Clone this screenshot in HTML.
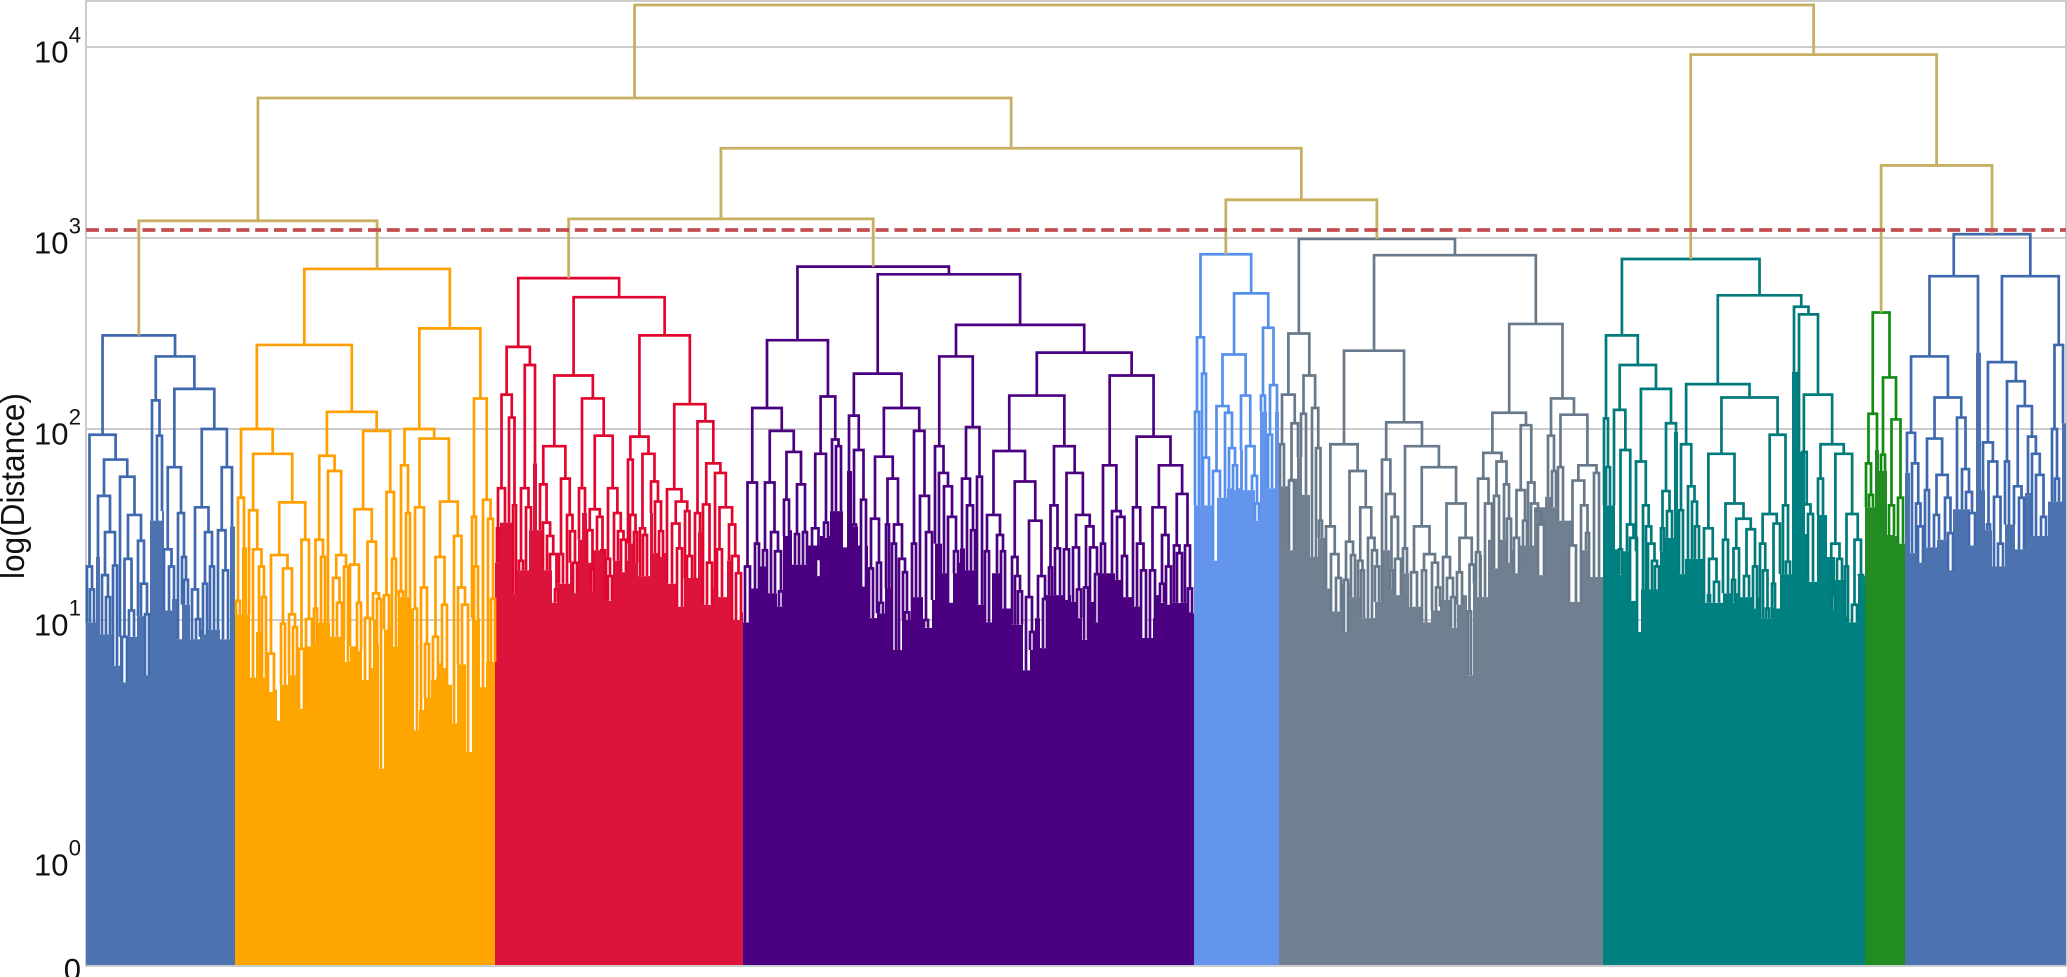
<!DOCTYPE html>
<html lang="en">
<head>
<meta charset="utf-8">
<title>Dendrogram of log(Distance)</title>
<style>
html,body{margin:0;padding:0;background:#fff;}
body{width:2067px;height:977px;overflow:hidden;}
svg{display:block;font-family:"Liberation Sans",Arial,sans-serif;}
</style>
</head>
<body>
<svg id="chart" xmlns="http://www.w3.org/2000/svg" width="2067" height="977" viewBox="0 0 2067 977">
  <rect x="0" y="0" width="2067" height="977" fill="#fff"/>
  <g id="grid"></g>
  <rect x="86" y="1" width="1980" height="965" fill="none" stroke="#ccc" stroke-width="2"/>
  <g id="fills"></g>
  <g id="slits"></g>
  <g id="links" fill="none" stroke-width="2.7"></g>
  <g id="toplinks" fill="none" stroke-width="2.8"></g>
  <line id="threshold" stroke="#c44e52" stroke-width="3.8" stroke-dasharray="13 5.8"/>
  <g id="yticks" fill="#111"></g>
  <text transform="translate(24 486) rotate(-90)" text-anchor="middle" font-size="33" textLength="186" lengthAdjust="spacingAndGlyphs" fill="#111">log(Distance)</text>
</svg>
<script>
// Each node is [log10 distance, left, right, optional log10 depth of the open gap]; bare numbers are leaf indices.
const leafCount = 1980;
const tickExponents = [0, 1, 2, 3, 4];
const thresholdLog = 3.042;

const blue1Tree = [2.49,
 [1.97,
  [1.28,1,[1.16,4,8,1.00]],
  [1.84,
   [1.65,12,[1.46,[1.235,16,[1.12,20,24,.95]],[1.285,27,31,.81]]],
   [1.75,34,[1.55,[1.32,[.93,36,41,.74],[1.05,43,48,.93]],[1.415,52,[1.19,55,[1.03,59,63,.77]]]]]]],
 [2.38,
  [2.15,66,[1.965,71,76]],
  [2.21,
   [1.80,[1.37,78,[1.28,83,88,1.11]],[1.56,92,[1.33,96,[1.21,98,102]]]],
   [2.00,
    [1.59,[1.16,106,[1.005,110,114,.93]],[1.46,[1.19,117,121,.94],[1.28,124,128,.96]]],
    [1.80,[1.47,132,[1.26,137,142,.92]],146]]]]];
const blue1Fill = [[0,.99],[10,1.33],[14,.94],[27,.81],[34,.93],[51,1.02],[64,1.52],[76,1.57],[78,1.05],[86,1.11],[91,.92],[96,1.08],[104,.92],[114,.96],[134,.92],[144,1.49]];

const orangeTree = [2.838,
 [2.44,
  [2.00,
   [1.64,[1.10,150,154],158],
   [1.87,
    [1.575,163,[1.37,167,[1.28,173,[1.12,176,180,.76]]]],
    [1.616,
     [1.34,[.86,182,188,.70],[1.27,[.985,195,199,.76],[1.03,203,[.97,207,211,.80]]]],
     [1.42,[.88,213,218,.76],[1.005,220,226,.90]]]]],
  [2.09,
   [1.86,
    [1.42,[1.06,228,231,.90],[1.33,235,239,1.05]],
    [1.78,242,[1.34,[1.22,247,[1.09,251,256,.94]],[1.28,258,262,.92]]]],
   [1.99,
    [1.58,[1.29,264,[1.09,271,275,.87]],[1.41,[1.01,279,284,.75],[1.14,287,[1.11,291,295,.90]]]],
    [1.67,[1.13,298,303,.96],[1.32,306,310,.90]]]]],
 [2.527,
  [2.00,
   [1.81,[1.15,313,317],[1.56,320,324]],
   [1.95,
    [1.59,[1.06,327,331],[1.17,335,[.90,339,343,.76]]],
    [1.62,[1.33,[.93,347,352,.76],[1.08,356,361,.80]],[1.44,368,[1.17,372,[1.08,376,382,.93]]]]]],
  [2.16,
   [1.54,386,[1.28,388,392,1.0]],
   [1.63,397,[1.53,402,[1.11,405,409]]]]]];
const orangeFill = [[149,1.03],[156,1.38],[161,1.03],[164,.76],[170,.95],[176,.80],[182,.71],[191,.58],[194,.73],[202,.77],[212,.63],[221,.89],[227,.99],[244,.93],[259,.825],[264,.89],[276,.75],[281,.80],[287,1.0],[293,.38],[298,.97],[307,.89],[312,1.12],[324,1.06],[328,.54],[333,.625],[338,.675],[345,.75],[350,.82],[361,.73],[366,.57],[371,.815],[380,.45],[386,1.01],[394,.72],[400,.825]];

const redTree = [2.79,
 [2.43,
  [2.18,[1.69,[1.48,411,413,1.30],419],[2.06,423,[1.60,427,430,1.14]]],
  [2.335,[1.69,[1.31,433,437,1.26],[1.59,440,445]],449]],
 [2.69,
  [2.28,
   [1.91,
    [1.71,454,[1.51,457,[1.44,461,[1.345,464,[1.16,469,472,1.09]]]]],
    [1.74,[1.345,473,477,1.19],[1.55,481,[1.465,484,[1.30,487,491,1.14]]]]],
   [2.16,
    [1.69,493,499],
    [1.965,
     [1.58,[1.47,501,[1.265,505,508,1.15]],[1.54,511,[1.365,514,519]]],
     [1.69,[1.32,520,[1.23,522,526,1.10]],[1.56,528,[1.465,532,[1.42,535,540,1.25]]]]]]],
  [2.49,
   [1.96,
    [1.84,542,[1.55,544,[1.46,548,551,1.30]]],
    [1.87,[1.48,554,[1.445,557,561,1.23]],[1.725,565,[1.62,569,[1.465,573,577,1.33]]]]],
   [2.13,
    [1.685,581,[1.62,[1.505,586,[1.375,591,596,1.07]],[1.57,599,[1.335,601,606,1.22]]]],
    [2.04,
     [1.56,609,614],
     [1.82,[1.605,617,[1.30,621,626,1.08]],[1.77,629,[1.59,[1.37,631,636,1.12],[1.50,643,[1.335,646,[1.245,650,655,1.00]]]]]]]]]]];
const redFill = [[409,1.30],[414,1.51],[431,1.26],[443,1.47],[447,1.82],[451,1.47],[457,1.26],[466,1.09],[472,1.19],[484,1.30],[492,1.42],[496,1.56],[501,1.30],[507,1.365],[519,1.10],[527,1.31],[542,1.40],[552,1.23],[564,1.56],[567,1.35],[581,1.19],[591,1.07],[598,1.22],[612,1.46],[617,1.08],[626,1.165],[634,1.12],[641,1.31],[646,1.00],[655,1.04]];

const indigoTree = [2.85,
 [2.465,
  [2.11,
   [1.72,[1.28,659,664,.99],[1.40,669,673,1.17]],
   [1.99,
    [1.72,[1.365,677,681],[1.46,685,[1.36,689,[1.15,693,697,1.07]]]],
    [1.88,[1.63,698,703,1.44],[1.71,[1.45,709,713,1.29],[1.46,717,721,1.29]]]]],
  [2.17,
   [1.87,[1.48,726,[1.32,730,735,1.23]],[1.51,738,742,1.43]],
   [1.945,746,[1.91,750,755]]]],
 [2.81,
  [2.29,
   [2.07,763,[1.89,[1.50,766,770],[1.63,775,780,1.175]]],
   [2.11,
    [1.855,
     [1.53,[1.27,783,787,1.01],[1.30,791,[1.09,793,797,1.035]]],
     [1.74,[1.50,800,803,1.165],[1.50,[1.40,806,810,.875],[1.32,813,[1.25,817,[1.04,819,823,1.0]]]]]],
    [1.99,[1.40,826,830,1.12],[1.65,834,[1.46,[1.0,838,842,.967],846]]]]],
  [2.545,
   [2.38,
    [1.91,849,[1.77,853,[1.70,858,[1.54,862,[1.36,868,872,1.245]]]]],
    [2.01,[1.74,876,[1.60,881,[1.47,885,889,1.30]]],[1.75,891,896,1.08]]],
   [2.40,
    [2.175,
     [1.885,
      [1.55,[1.36,899,903,1.245],[1.445,911,[1.36,915,919,1.06]]],
      [1.725,
       [1.33,926,[1.23,929,[1.15,932,936,.98]]],
       [1.52,[1.12,940,[.95,944,948,.875]],[1.23,952,[1.11,957,961,.883]]]]],
     [1.91,
      [1.60,[1.275,963,966,1.14],[1.375,969,974,1.165]],
      [1.77,
       [1.37,978,983,1.105],
       [1.55,
        [1.38,987,[1.16,991,995,1.01]],
        [1.49,[1.17,998,1002,.917],[1.38,1004,[1.24,1009,1013,.99]]]]]]],
    [2.28,
     [1.81,[1.40,1015,1019,1.29],[1.57,1026,[1.54,1031,[1.335,1036,1041,1.12]]]],
     [1.96,
      [1.59,1047,[1.40,1051,[1.26,1055,1060,.925]]],
      [1.81,
       [1.59,[1.26,1064,1069,1.01],[1.445,[1.19,1074,1078,1.09],[1.28,1080,1085,1.08]]],
       [1.66,[1.39,1088,[1.35,1091,1096,1.09]],[1.39,1099,[1.165,1102,1106,1.04]]]]]]]]]];
const indigoFill = [[657,.99],[662,1.165],[674,1.28],[681,1.14],[691,1.07],[697,1.47],[706,1.29],[722,1.39],[734,1.44],[744,1.57],[757,1.38],[761,1.78],[766,1.49],[772,1.39],[782,1.01],[791,1.035],[799,1.165],[809,.875],[816,1.0],[827,1.12],[837,.967],[846,1.105],[849,1.40],[856,1.245],[862,1.09],[867,1.30],[874,1.375],[879,1.26],[894,1.08],[899,.99],[906,1.245],[914,1.06],[925,.98],[937,.79],[944,.875],[949,1.01],[954,.883],[960,1.13],[985,1.095],[991,1.01],[996,.917],[1002,1.095],[1008,.99],[1013,1.245],[1029,1.21],[1036,1.12],[1046,1.07],[1059,.925],[1067,1.13],[1075,1.09],[1105,1.035]];

const cornflowerTree = [2.915,
 [2.48,[2.09,1109,1113],[2.29,1116,[1.85,1117,1123]]],
 [2.71,
  [2.39,
   [2.12,[1.78,1127,1134],[2.085,1139,[1.90,1143,[1.81,1147,1151,1.68]]]],
   [2.175,1155,[1.91,1160,[1.755,1166,[1.61,1169,1173,1.52]]]]],
  [2.53,[2.175,1175,1179],[2.23,[1.97,1182,1186,1.69],1191]]]];
const cornflowerFill = [[1108,1.60],[1126,1.31],[1131,1.64],[1141,1.69],[1154,1.89],[1157,1.68],[1169,1.52],[1174,2.09],[1181,1.97],[1184,1.69],[1189,2.09]];

const slateTree = [2.995,
 [2.50,
  [2.18,[1.92,1194,1198],[2.03,[1.73,1203,1208,1.365],1212]],
  [2.28,[2.08,1215,1220],[2.11,1226,[1.90,1230,[1.52,1233,1236,1.43]]]]],
 [2.91,
  [2.41,
   [1.92,
    [1.49,1240,[1.345,1245,[1.22,1250,1255,1.045]]],
    [1.78,
     [1.41,[1.21,1258,1262,.95],[1.34,1265,1269,1.12]],
     [1.59,[1.31,1272,[1.26,1275,1278,1.05]],[1.43,1282,[1.365,1286,[1.28,1289,1293,1.095]]]]]],
   [2.035,
    [1.84,1296,[1.66,1300,[1.54,[1.26,1304,1307,1.16],[1.32,1309,1315,1.13]]]],
    [1.91,
     [1.375,1317,1321,1.245],
     [1.80,
      [1.49,[1.25,1325,1331,1.07],[1.345,[1.26,1336,1340,1.08],[1.30,1346,[1.17,1350,1354,1.07]]]],
      [1.61,
       [1.33,1357,[1.22,1361,[1.12,1365,1369,.967]]],
       [1.43,[1.25,1371,1376,1.08],[1.29,[1.045,1382,1385,.77],1388]]]]]]],
  [2.55,
   [2.085,
    [1.875,
     [1.74,[1.355,1390,1394,1.12],[1.61,1399,1406]],
     [1.83,[1.65,1408,1413,1.27],[1.71,1418,[1.53,1421,1425,1.30]]]],
    [2.02,
     [1.68,[1.43,1428,1433,1.245],[1.52,1437,1441,1.39]],
     [1.72,1442,[1.61,1445,[1.57,1449,[1.50,1452,1458,1.235]]]]]],
   [2.16,
    [1.965,1462,[1.78,1466,1470,1.59]],
    [2.075,
     [1.80,1472,1477,1.52],
     [1.81,
      [1.73,[1.39,1483,1490,1.095],[1.60,1495,[1.455,1500,1503,1.365]]],
      [1.77,1508,1513]]]]]]];
const slateFill = [[1193,1.70],[1203,1.74],[1211,1.85],[1216,1.655],[1224,1.33],[1232,1.43],[1239,1.165],[1245,1.045],[1255,1.19],[1258,.95],[1262,1.19],[1264,1.12],[1274,1.01],[1289,1.095],[1297,1.365],[1304,1.19],[1316,1.245],[1323,1.07],[1335,.99],[1345,1.05],[1354,1.105],[1366,.967],[1371,1.13],[1381,.77],[1387,1.19],[1392,1.34],[1396,1.12],[1402,1.42],[1423,1.365],[1431,1.39],[1448,1.59],[1459,1.645],[1478,1.52],[1486,1.095],[1496,1.365],[1503,1.225]];

const tealTree = [2.89,
 [2.49,
  [2.055,1518,[1.80,1520,1524,1.60]],
  [2.335,
   [2.10,1528,[1.89,[1.37,1533,1536,1.24],[1.50,1541,[1.43,1544,1551,1.10]]]],
   [2.21,
    [1.83,1550,[1.60,1557,[1.49,1560,[1.40,1562,[1.31,1566,[1.28,1569,1573,1.18]]]]]],
    [2.03,[1.675,[1.48,1575,1578,1.36],[1.57,1581,1586,1.43]],1590]]]],
 [2.70,
  [2.235,
   [1.92,[1.575,1593,1597,1.24],[1.70,1602,[1.62,1606,[1.49,1609,1613,1.32]]]],
   [2.165,
    [1.87,
     [1.48,1618,[1.32,[1.13,1622,1624,1.09],[1.20,1628,1633,1.09]]],
     [1.61,[1.42,1637,1642,1.14],[1.53,[1.375,[1.21,1646,1649,1.09],1653],[1.475,[1.23,1658,1663,1.12],[1.28,1667,1671,1.06]]]]],
    [1.97,
     [1.555,[1.40,1674,[1.26,1677,[1.06,1680,1683,1.01]]],[1.505,[1.19,1686,1689,1.06],1694]],
     [1.60,1697,[1.305,1700,1704,1.24]]]]],
  [2.64,
   1708,
   [2.60,
    1713,
    [2.18,
     [1.88,1715,[1.605,1717,[1.555,1722,1727,1.20]]],
     [1.92,
      [1.74,1732,1737],
      [1.87,
       [1.40,[1.21,1743,[1.13,1746,1749,1.05]],[1.32,1751,1756]],
       [1.555,[1.28,1759,1762,1.02],[1.42,[1.08,1766,1771,.99],[1.235,1773,1777]]]]]]]]]];
const tealFill = [[1517,1.60],[1529,1.37],[1532,1.24],[1537,1.36],[1551,.95],[1555,1.16],[1574,1.43],[1588,1.985],[1592,1.57],[1596,1.24],[1599,1.32],[1617,1.09],[1637,1.14],[1652,1.12],[1674,1.01],[1687,1.06],[1694,1.24],[1706,2.30],[1712,1.88],[1719,1.45],[1722,1.20],[1731,1.55],[1741,1.33],[1749,1.21],[1761,.99],[1772,1.23]];

const greenTree = [2.61,
 [2.08,[1.82,1780,[1.655,1783,1787,1.59]],1791],
 [2.27,[1.865,1795,1799],[2.05,[1.60,1803,1808,1.445],[1.64,1812,1817,1.40]]]];
const greenFill = [[1779,1.59],[1789,1.89],[1793,1.78],[1801,1.445],[1809,1.44],[1814,1.40]];

const blue2Tree = [3.02,
 [2.80,
  [2.38,
   [1.98,1821,[1.82,1826,[1.61,1830,[1.49,1832,1837,1.30]]]],
   [2.165,
    [1.95,[1.68,1839,1843,1.38],[1.76,[1.55,1848,1853,1.42],[1.64,1859,[1.455,1862,1867,1.26]]]],
    [2.06,1871,[1.79,1876,[1.67,1880,[1.56,1883,1889,1.39]]]]]],
  1892],
 [2.80,
  [2.35,
   [1.93,1897,[1.83,[1.50,1901,1904],[1.645,1908,[1.40,1912,1917,1.28]]]],
   [2.25,
    [1.83,1919,1923,1.50],
    [2.12,
     [1.70,1928,[1.64,1933,1938,1.37]],
     [1.96,1942,[1.87,1946,[1.76,1950,[1.54,1955,1960,1.44]]]]]]],
  [2.44,[2.0,1966,[1.74,1969,1973,1.62]],1977]]];
const blue2Fill = [[1819,1.77],[1824,1.35],[1837,1.38],[1851,1.42],[1867,1.58],[1884,1.39],[1890,2.40],[1895,1.68],[1899,1.47],[1906,1.28],[1919,1.50],[1929,1.37],[1939,1.665],[1946,1.44],[1962,1.62],[1976,2.03]];

// Links above the threshold, joining the nine clusters.
const topTree = [4.22,
 [3.733,
  [3.09, blue1Tree, orangeTree],
  [3.47,
   [3.10, redTree, indigoTree],
   [3.20, cornflowerTree, slateTree]]],
 [3.96,
  tealTree,
  [3.38, greenTree, blue2Tree]]];

const clusterNames = ['blue-left','orange','crimson','indigo','cornflower','slate','teal','green','blue-right'];
const clusterTrees = [blue1Tree,orangeTree,redTree,indigoTree,cornflowerTree,slateTree,tealTree,greenTree,blue2Tree];
const clusterFills = [blue1Fill,orangeFill,redFill,indigoFill,cornflowerFill,slateFill,tealFill,greenFill,blue2Fill];

const fillPalette = ['#4c72b0','#ffa500','#dc143c','#4b0082','#6495ed','#708090','#008080','#228b22','#4c72b0'];
const linkPalette = ['#3f69af','#ff9f00','#e2062f','#4b0082','#5590ec','#67798a','#007a7a','#148c14','#3f69af'];
const topLinkColor = '#c8b063';

const SVGNS = 'http://www.w3.org/2000/svg';
const plotLeft = 86, plotWidth = 1980, zeroY = 965;
const xScale = u => plotLeft + u * plotWidth / leafCount;
const yScale = log => log >= 1 ? 811 - 191 * log : 620 + 240 * (1 - log);

const gridLayer = document.getElementById('grid');
const fillLayer = document.getElementById('fills');
const slitLayer = document.getElementById('slits');
const linkLayer = document.getElementById('links');
const topLayer = document.getElementById('toplinks');
const tickLayer = document.getElementById('yticks');

function fillTopAt(fill, u) {
  let top = fill[0][1];
  for (const step of fill) { if (step[0] <= u) top = step[1]; }
  return top;
}

function addLink(layer, color, lx, ly, rx, ry, y) {
  const p = document.createElementNS(SVGNS, 'path');
  
  
  p.setAttribute('stroke', color);
  p.setAttribute('d', 'M' + lx + ' ' + ly + 'V' + y + 'H' + rx + 'V' + ry);
  layer.appendChild(p);
}

function drawCluster(node, index) {
  const fill = clusterFills[index];
  if (typeof node === 'number') {
    return { x: xScale(node), y: yScale(fillTopAt(fill, node)), leaf: true };
  }
  const left = drawCluster(node[1], index);
  const right = drawCluster(node[2], index);
  const y = yScale(node[0]);
  let ly = Math.max(left.y, y);
  let ry = Math.max(right.y, y);
  if (node.length > 3) {
    const floorY = yScale(node[3]);
    const gap = document.createElementNS(SVGNS, 'rect');
    
    
    gap.setAttribute('x', left.x);
    gap.setAttribute('y', y);
    gap.setAttribute('width', Math.max(0, right.x - left.x));
    gap.setAttribute('height', Math.max(0, floorY - y));
    gap.setAttribute('fill', '#fff');
    slitLayer.appendChild(gap);
    if (left.leaf) ly = Math.max(ly, floorY);
    if (right.leaf) ry = Math.max(ry, floorY);
  }
  addLink(linkLayer, linkPalette[index], left.x, ly, right.x, ry, y);
  return { x: (left.x + right.x) / 2, y: y, leaf: false };
}

function drawTop(node) {
  const index = clusterTrees.indexOf(node);
  if (index >= 0) return drawCluster(node, index);
  const left = drawTop(node[1]);
  const right = drawTop(node[2]);
  const y = yScale(node[0]);
  addLink(topLayer, topLinkColor, left.x, left.y, right.x, right.y, y);
  return { x: (left.x + right.x) / 2, y: y, leaf: false };
}

// Gridlines and tick labels
tickExponents.forEach(function (exp) {
  const y = yScale(exp);
  if (exp > 0) {
    const line = document.createElementNS(SVGNS, 'line');
    
    
    line.setAttribute('x1', plotLeft);
    line.setAttribute('x2', plotLeft + plotWidth);
    line.setAttribute('y1', y);
    line.setAttribute('y2', y);
    line.setAttribute('stroke', '#c6c6c6');
    line.setAttribute('stroke-width', '1.8');
    gridLayer.appendChild(line);
  }
  const base = document.createElementNS(SVGNS, 'text');
  
  
  base.setAttribute('x', '68.5');
  base.setAttribute('y', y + 15.5);
  base.setAttribute('text-anchor', 'end');
  base.setAttribute('font-size', '31');
  base.textContent = '10';
  tickLayer.appendChild(base);
  const sup = document.createElementNS(SVGNS, 'text');
  
  
  sup.setAttribute('x', '81');
  sup.setAttribute('y', y - 4.5);
  sup.setAttribute('text-anchor', 'end');
  sup.setAttribute('font-size', '22');
  sup.textContent = String(exp);
  tickLayer.appendChild(sup);
});
const zeroLabel = document.createElementNS(SVGNS, 'text');


zeroLabel.setAttribute('x', '81');
zeroLabel.setAttribute('y', zeroY + 15);
zeroLabel.setAttribute('text-anchor', 'end');
zeroLabel.setAttribute('font-size', '31');
zeroLabel.textContent = '0';
tickLayer.appendChild(zeroLabel);

// Solid blocks where the leaves are too dense to separate
clusterFills.forEach(function (fill, index) {
  const end = index + 1 < clusterFills.length ? clusterFills[index + 1][0][0] : leafCount;
  let d = 'M' + xScale(fill[0][0]) + ' ' + zeroY;
  fill.forEach(function (step, i) {
    const next = i + 1 < fill.length ? fill[i + 1][0] : end;
    d += 'V' + yScale(step[1]) + 'H' + xScale(next);
  });
  d += 'V' + zeroY + 'Z';
  const block = document.createElementNS(SVGNS, 'path');
  
  
  block.setAttribute('fill', fillPalette[index]);
  block.setAttribute('d', d);
  fillLayer.appendChild(block);
});

drawTop(topTree);

const thresholdLine = document.getElementById('threshold');
thresholdLine.setAttribute('x1', plotLeft);
thresholdLine.setAttribute('x2', plotLeft + plotWidth);
thresholdLine.setAttribute('y1', yScale(thresholdLog));
thresholdLine.setAttribute('y2', yScale(thresholdLog));
</script>
</body>
</html>
